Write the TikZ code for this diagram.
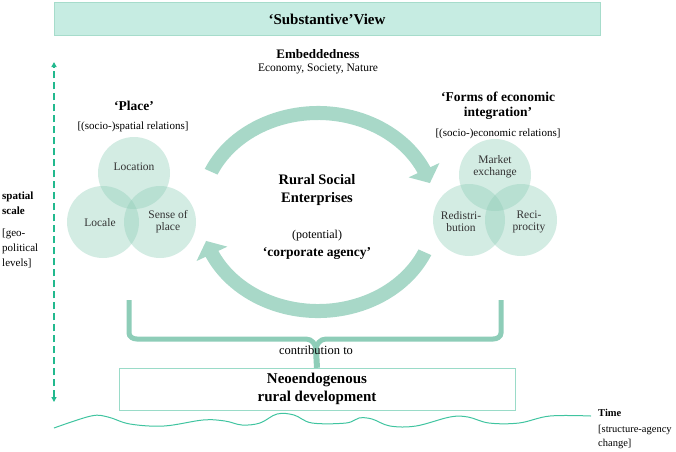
\documentclass[tikz,border=0pt]{standalone}
\usepackage{fontspec}
\setmainfont{Liberation Serif}
\usetikzlibrary{arrows.meta}
\definecolor{mint}{HTML}{C6ECE2}
\definecolor{mintline}{HTML}{A6DCCB}
\definecolor{sage}{HTML}{A8D8C8}
\definecolor{bracegreen}{HTML}{8ECDB8}
\definecolor{venngreen}{HTML}{8CCCB6}
\definecolor{scaleteal}{HTML}{22B98E}
\definecolor{wavegreen}{HTML}{40C4A0}
\definecolor{boxline}{HTML}{9ADBC8}
\newcommand{\fs}[2]{\fontsize{#1}{#2}\selectfont}
\tikzset{
  venncirc/.style={circle,fill=venngreen,fill opacity=0.38,minimum size=72pt,inner sep=0pt},
  venntext/.style={align=center,inner sep=0pt,text=black!80,font=\fs{11.5}{12}},
  heading/.style={align=center,inner sep=0pt,font=\bfseries\fs{13.5}{15}},
  remark/.style={align=center,inner sep=0pt,font=\fs{11}{13}}
}
\begin{document}
\begin{tikzpicture}[x=1pt,y=1pt]
\useasboundingbox (0,0) rectangle (676,-451);
% top banner
\node[draw=mintline,fill=mint,minimum width=546pt,minimum height=33pt,font=\bfseries\fs{15}{17}] (view) at (327,-19) {‘Substantive’View};
\node[inner sep=0pt,font=\bfseries\fs{13}{15}] (embed) at (318,-54) {Embeddedness};
\node[remark,font=\fs{11.5}{13}] (spheres) at (318,-69) {Economy, Society, Nature};
% spatial scale
\coordinate (scaletop) at (54,-62);
\coordinate (scalebot) at (54,-402);
\draw[scaleteal,line width=2pt,dash pattern=on 7pt off 4pt,{Triangle[length=5pt,width=5pt]}-{Triangle[length=5pt,width=5pt]}] (scalebot) -- (scaletop);
\node[anchor=west,inner sep=0pt,align=left,font=\bfseries\fs{11}{15}] (scale) at (2,-203) {spatial\\scale};
\node[anchor=west,inner sep=0pt,align=left,font=\fs{11}{15}] (geo) at (2,-248) {[geo-\\political\\levels]};
% place
\node[heading] (place) at (134,-106) {‘Place’};
\node[remark] (placerel) at (133,-127) {[(socio-)spatial relations]};
\node[venncirc] (location) at (134,-173) {};
\node[venncirc] (locale) at (103,-222) {};
\node[venncirc] (sense) at (160,-222) {};
\node[venntext] (locationtxt) at (134,-167) {Location};
\node[venntext] (localetxt) at (100,-223) {Locale};
\node[venntext] (sensetxt) at (168,-222) {Sense of\\place};
% forms of economic integration
\node[heading] (forms) at (498,-106) {‘Forms of economic\\integration’};
\node[remark] (formsrel) at (498,-134) {[(socio-)economic relations]};
\node[venncirc] (market) at (495,-175) {};
\node[venncirc] (redis) at (469,-220) {};
\node[venncirc] (recip) at (521,-220) {};
\node[venntext] (markettxt) at (495,-167) {Market\\exchange};
\node[venntext] (redistxt) at (461,-222) {Redistri-\\bution};
\node[venntext] (reciptxt) at (529,-222) {Reci-\\procity};
% cycle
\begin{scope}[shift={(318,-212)}]
\fill[sage] (156:124 and 106) arc[start angle=156,end angle=25,x radius=124,y radius=106]
  -- (25:134 and 116) -- (17:117 and 99) -- (25:100 and 82) -- (25:110 and 92)
  arc[start angle=25,end angle=156,x radius=110,y radius=92] -- cycle;
\fill[sage] (-24:124 and 106) arc[start angle=-24,end angle=-155,x radius=124,y radius=106]
  -- (-155:134 and 116) -- (-163:117 and 99) -- (-155:100 and 82) -- (-155:110 and 92)
  arc[start angle=-155,end angle=-24,x radius=110,y radius=92] -- cycle;
\end{scope}
\node[align=center,inner sep=0pt,font=\bfseries\fs{14.5}{18}] (rse) at (317,-190) {Rural Social\\Enterprises};
\node[inner sep=0pt,font=\fs{12}{14}] (potential) at (317,-236) {(potential)};
\node[inner sep=0pt,font=\bfseries\fs{13.5}{15}] (agency) at (317,-253) {‘corporate agency’};
% contribution
\node[draw=boxline,minimum width=396pt,minimum height=42pt,align=center,font=\bfseries\fs{15}{18}] (neo) at (317,-389) {Neoendogenous\\rural development};
\coordinate (brL) at (129,-300);
\coordinate (brR) at (501,-300);
\coordinate (brT) at (316,-350);
\draw[bracegreen,line width=5pt] (brL) -- (129,-333) to[out=-90,in=180] (137,-339) -- (306,-339) to[out=0,in=90] (brT);
\draw[bracegreen,line width=5pt] (brR) -- (501,-333) to[out=-90,in=0] (493,-339) -- (326,-339) to[out=180,in=90] (brT);
\draw[bracegreen,line width=6pt] (brT) -- (neo.north);
\node[inner sep=0pt,fill=white,fill opacity=0,text opacity=1,font=\fs{12.5}{14}] (contrib) at (316,-350) {contribution to};
% time
\draw[wavegreen,line width=1pt] plot[smooth,tension=0.6] coordinates {(54,-428) (91,-416) (108,-417) (130,-424) (164,-426) (203,-420) (225,-421) (242,-425) (260,-423) (277,-414) (294,-415) (312,-423) (346,-423) (359,-418) (372,-419) (390,-426) (416,-426) (450,-417) (468,-417) (489,-423) (519,-423) (550,-416) (591,-416)};
\node[anchor=west,inner sep=0pt,font=\bfseries\fs{10.5}{15}] (time) at (598,-413) {Time};
\node[anchor=west,inner sep=0pt,align=left,font=\fs{10.5}{14}] (change) at (598,-437) {[structure-agency\\change]};
\end{tikzpicture}
\end{document}
